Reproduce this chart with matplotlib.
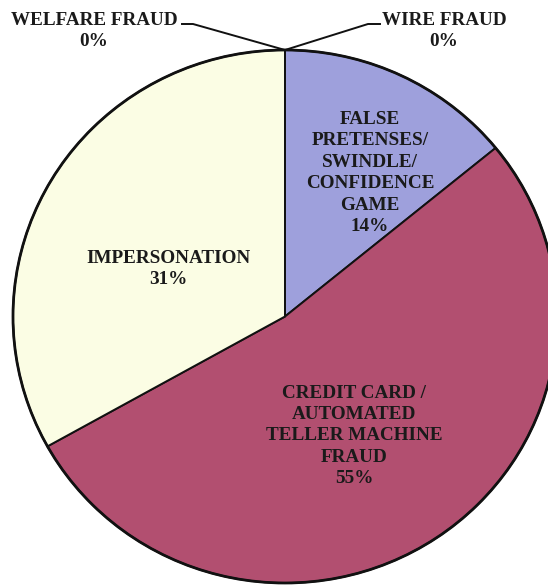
import numpy as np
import matplotlib.pyplot as plt

# categories, clockwise from 12 o'clock
categories = ['FALSE\nPRETENSES/\nSWINDLE/\nCONFIDENCE\nGAME',
              'CREDIT CARD /\nAUTOMATED\nTELLER MACHINE\nFRAUD',
              'IMPERSONATION',
              'WELFARE FRAUD',
              'WIRE FRAUD']
# slice sizes as drawn in the picture
shares = [14.1, 52.8, 33.1, 0, 0]
# percentages as printed on the chart
pct_labels = ['14%', '55%', '31%', '0%', '0%']
colors = ['#9ea0dc', '#b24f70', '#fbfde4', '#fbfde4', '#9ea0dc']

W, H = 548, 588
fig = plt.figure(figsize=(W / 100, H / 100), dpi=100)
ax = fig.add_axes([0, 0, 1, 1])

# pie drawn as unit circle, then stretched into pixel frame
cx, cy = 285, 316.5     # pixel centre
rx, ry = 272, 266.5     # pixel radii

def px(x, y):
    return (x - cx) / rx, (cy - y) / ry

ax.pie(shares, colors=colors, startangle=90, counterclock=False,
       radius=1, wedgeprops=dict(edgecolor='#111111', linewidth=1.4))
ax.add_patch(plt.Circle((0, 0), 1, fill=False, edgecolor='#111111', lw=2.0))

ax.set_xlim(px(0, 0)[0], px(W, 0)[0])
ax.set_ylim(px(0, H)[1], px(0, 0)[1])
ax.set_aspect('auto')
ax.axis('off')

font = dict(family='Liberation Serif', weight='bold', size=13.8,
            color='#1a1a1a', ha='center', va='center', linespacing=1.34)

# label positions (pixels)
label_pos = [(370, 173), (354, 436), (168, 269), (94, 31), (444, 31)]
for name, pct, (x, y) in zip(categories, pct_labels, label_pos):
    ax.text(*px(x, y), name + '\n' + pct, **font)

# leader lines for the empty slices
top = px(285, 50)
lx = [px(182, 24)[0], px(193, 24)[0], top[0]]
ly = [px(182, 24)[1], px(193, 24)[1], top[1]]
ax.plot(lx, ly, color='#111111', lw=1.4, clip_on=False)
rx_ = [top[0], px(368, 24)[0], px(380, 24)[0]]
ry_ = [top[1], px(368, 24)[1], px(380, 24)[1]]
ax.plot(rx_, ry_, color='#111111', lw=1.4, clip_on=False)

fig.savefig('out.png', dpi=100)
